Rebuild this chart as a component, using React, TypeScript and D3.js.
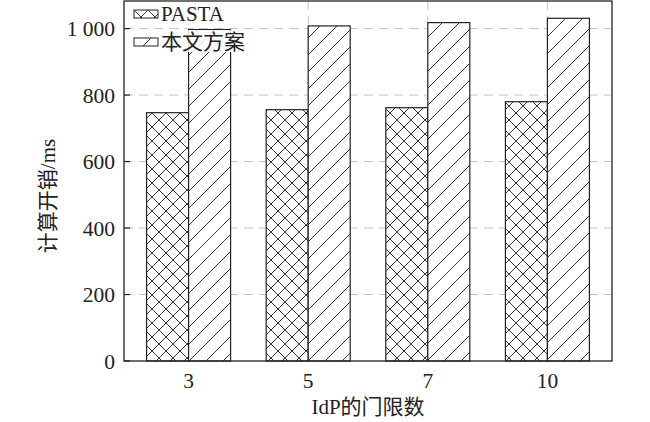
import * as d3 from "d3";

const categories: string[] = ["3", "5", "7", "10"];
const pastaValues: number[] = [747, 756, 762, 780];
const oursValues: number[] = [997, 1008, 1018, 1031];
const yTicks: number[] = [0, 200, 400, 600, 800, 1000];
const seriesNames: string[] = ["PASTA", "本文方案"];

const width = 650;
const height = 422;
const margin = { top: 1, right: 38, bottom: 61, left: 124 };
const font = "'Liberation Serif', 'Times New Roman', 'Noto Sans CJK SC', serif";

const App = () => {
  const innerW = width - margin.left - margin.right;
  const innerH = height - margin.top - margin.bottom;

  const x = d3
    .scaleBand<string>()
    .domain(categories)
    .range([0, innerW])
    .paddingInner(0)
    .paddingOuter(0.04);
  const y = d3.scaleLinear().domain([0, 1083]).range([innerH, 0]);

  const barW = 42;
  const center = (c: string) => (x(c) as number) + x.bandwidth() / 2;
  const fmt = (v: number) =>
    v >= 1000 ? `${Math.floor(v / 1000)} ${String(v % 1000).padStart(3, "0")}` : `${v}`;

  const series = [
    { name: seriesNames[0], values: pastaValues, fill: "url(#cross)", off: -barW },
    { name: seriesNames[1], values: oursValues, fill: "url(#diag)", off: 0 },
  ];

  return (
    <svg
      width={width}
      height={height}
      style={{ position: "absolute", left: 0, top: 0, background: "#fff" }}
      fontFamily={font}
    >
      <defs>
        <pattern id="cross" patternUnits="userSpaceOnUse" width={14} height={14}>
          <rect width={14} height={14} fill="#fff" />
          <path d="M0,0L14,14M14,0L0,14" stroke="#222" strokeWidth={0.9} />
        </pattern>
        <pattern id="diag" patternUnits="userSpaceOnUse" width={17} height={17}>
          <rect width={17} height={17} fill="#fff" />
          <path d="M0,17L17,0M-4,4L4,-4M13,21L21,13" stroke="#222" strokeWidth={0.9} />
        </pattern>
      </defs>
      <g transform={`translate(${margin.left},${margin.top})`}>
        {/* grid */}
        {yTicks
          .filter((t) => t > 0)
          .map((t) => (
            <line
              key={`gy${t}`}
              x1={0}
              x2={innerW}
              y1={y(t)}
              y2={y(t)}
              stroke="#c4c4c4"
              strokeDasharray="9,6"
              strokeWidth={1}
            />
          ))}
        {categories.map((c) => (
          <line
            key={`gx${c}`}
            x1={center(c)}
            x2={center(c)}
            y1={0}
            y2={innerH}
            stroke="#c4c4c4"
            strokeDasharray="9,6"
            strokeWidth={1}
          />
        ))}

        {/* bars */}
        {series.map((s) =>
          categories.map((c, i) => (
            <rect
              key={`${s.name}${c}`}
              x={center(c) + s.off}
              y={y(s.values[i])}
              width={barW}
              height={innerH - y(s.values[i])}
              fill={s.fill}
              stroke="#222"
              strokeWidth={1.2}
            />
          ))
        )}

        {/* frame */}
        <rect
          x={0}
          y={0}
          width={innerW}
          height={innerH}
          fill="none"
          stroke="#222"
          strokeWidth={1.3}
        />
        {yTicks.map((t) => (
          <g key={`yt${t}`}>
            <line x1={0} x2={6} y1={y(t)} y2={y(t)} stroke="#222" strokeWidth={1.2} />
            <text
              x={-9}
              y={y(t)}
              dy="0.35em"
              textAnchor="end"
              fontSize={21.5}
              fill="#222"
            >
              {fmt(t)}
            </text>
          </g>
        ))}
        {categories.map((c) => (
          <text
            key={`xt${c}`}
            x={center(c)}
            y={innerH + 27}
            textAnchor="middle"
            fontSize={21.5}
            fill="#222"
          >
            {c}
          </text>
        ))}

        {/* legend */}
        {series.map((s, i) => (
          <g key={`lg${s.name}`} transform={`translate(10,${9 + i * 28})`}>
            <rect x={0} y={0} width={24} height={8} fill={s.fill} stroke="#222" strokeWidth={1} />
            <rect
              x={26}
              y={-8}
              width={i === 0 ? 68 : 92}
              height={22}
              fill="#fff"
              opacity={0.85}
            />
            <text x={27} y={4} dy="0.35em" fontSize={21} fill="#222">
              {s.name}
            </text>
          </g>
        ))}
      </g>

      <text
        x={margin.left + innerW / 2}
        y={414}
        textAnchor="middle"
        fontSize={21}
        fill="#222"
      >
        IdP的门限数
      </text>
      <text
        transform="translate(48,196) rotate(-90)"
        dy="0.35em"
        textAnchor="middle"
        fontSize={21}
        fill="#222"
      >
        计算开销/ms
      </text>
    </svg>
  );
};

export default App;
